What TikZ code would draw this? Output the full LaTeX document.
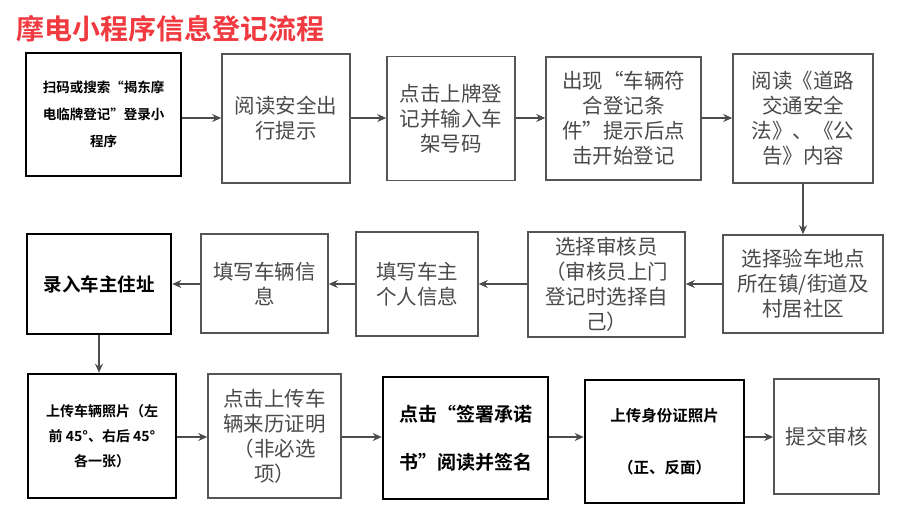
\documentclass[tikz,border=0pt]{standalone}
\usepackage{fontspec}
\setmainfont{Noto Sans CJK SC}
\newfontfamily\cjk{Noto Sans CJK SC}
\newfontfamily\cjkb{Noto Sans CJK SC Bold}
\usetikzlibrary{arrows.meta}
\definecolor{boxgray}{HTML}{555555}
\definecolor{txtgray}{HTML}{4A4A4A}
\definecolor{titlered}{HTML}{F03A40}
\tikzset{
  graybox/.style={draw=boxgray, line width=1.6pt, fill=white, inner sep=0pt, align=center,
    text=txtgray, font=\cjk\fontsize{20.5}{25}\selectfont},
  blackbox/.style={draw=black, line width=2.6pt, fill=white, inner sep=0pt, align=center,
    text=black},
  arr/.style={draw=boxgray!90!black, line width=1.4pt, -{Stealth[length=9pt,width=8pt]}},
}
\begin{document}
\begin{tikzpicture}[x=1pt,y=-1pt]
\useasboundingbox[fill=white] (0,0) rectangle (900,515);
\node[anchor=west, text=titlered, font=\cjkb\fontsize{28}{32}\selectfont, inner sep=0pt] (title) at (16,29) {摩电小程序信息登记流程};
% row 1
\node[blackbox, minimum width=155, minimum height=123, font=\cjkb\fontsize{13.5}{27}\selectfont] (b1) at (103.5,114.5) {扫码或搜索“揭东摩\\电临牌登记”登录小\\程序};
\node[graybox, minimum width=128, minimum height=129] (b2) at (286,118.5) {阅读安全出\\行提示};
\node[graybox, minimum width=128, minimum height=124] (b3) at (451,118.5) {点击上牌登\\记并输入车\\架号码};
\node[graybox, minimum width=155, minimum height=123] (b4) at (623.5,118.5) {出现“车辆符\\合登记条\\件”提示后点\\击开始登记};
\node[graybox, minimum width=140, minimum height=129] (b5) at (803,118.5) {阅读《道路\\交通安全\\法》、《公\\告》内容};
% row 2
\node[graybox, minimum width=160, minimum height=98] (b6) at (803,284) {选择验车地点\\所在镇/街道及\\村居社区};
\node[graybox, minimum width=157, minimum height=105] (b7) at (606.5,284.5) {选择审核员\\（审核员上门\\登记时选择自\\己）};
\node[graybox, minimum width=122, minimum height=104] (b8) at (417,284) {填写车主\\个人信息};
\node[graybox, minimum width=127, minimum height=99] (b9) at (264.5,283.5) {填写车辆信\\息};
\node[blackbox, minimum width=144, minimum height=100, font=\cjkb\fontsize{18.5}{24}\selectfont] (b10) at (99,284) {录入车主住址};
% row 3
\node[blackbox, minimum width=148, minimum height=124, font=\cjkb\fontsize{14}{25}\selectfont] (b11) at (102,436) {上传车辆照片（左\\前 45°、右后 45°\\各一张）};
\node[graybox, minimum width=133, minimum height=124] (b12) at (274.5,436) {点击上传车\\辆来历证明\\（非必选\\项）};
\node[blackbox, minimum width=165, minimum height=122, font=\cjkb\fontsize{19}{48}\selectfont] (b13) at (465.5,438) {点击“签署承诺\\书”阅读并签名};
\node[blackbox, minimum width=159, minimum height=123, font=\cjkb\fontsize{15.5}{52}\selectfont] (b14) at (664.5,441.5) {上传身份证照片\\（正、反面）};
\node[graybox, minimum width=105, minimum height=115] (b15) at (826.5,436.5) {提交审核};
% arrows
\draw[arr] (b1.east |- 0,118) -- (b2.west |- 0,118);
\draw[arr] (b2.east |- 0,118) -- (b3.west |- 0,118);
\draw[arr] (b3.east |- 0,118) -- (b4.west |- 0,118);
\draw[arr] (b4.east |- 0,118) -- (b5.west |- 0,118);
\draw[arr] (b5.south) -- (b6.north);
\draw[arr] (b6.west |- 0,284) -- (b7.east |- 0,284);
\draw[arr] (b7.west |- 0,284) -- (b8.east |- 0,284);
\draw[arr] (b8.west |- 0,284) -- (b9.east |- 0,284);
\draw[arr] (b9.west |- 0,284) -- (b10.east |- 0,284);
\draw[arr] (b10.south) -- (b10.south |- b11.north);
\draw[arr] (b11.east |- 0,437) -- (b12.west |- 0,437);
\draw[arr] (b12.east |- 0,437) -- (b13.west |- 0,437);
\draw[arr] (b13.east |- 0,437) -- (b14.west |- 0,437);
\draw[arr] (b14.east |- 0,437) -- (b15.west |- 0,437);
\end{tikzpicture}
\end{document}
